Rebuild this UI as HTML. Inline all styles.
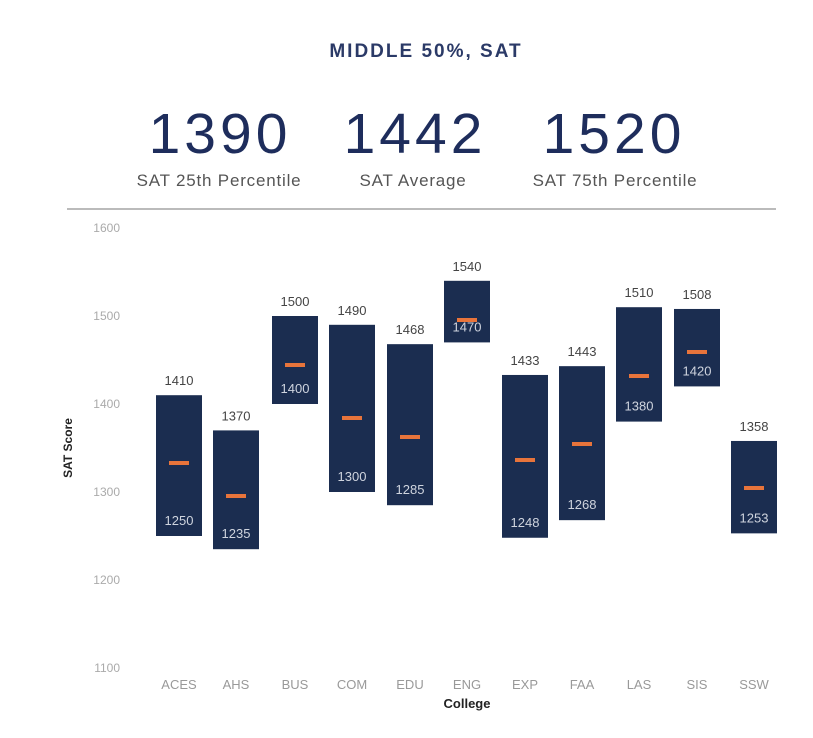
<!DOCTYPE html>
<html><head><style>
body{margin:0;background:#fff;}
svg{display:block;font-family:"Liberation Sans",sans-serif;}
</style></head><body>
<svg width="813" height="738" viewBox="0 0 813 738">
<rect width="813" height="738" fill="#fff"/>
<text x="426" y="57" text-anchor="middle" font-size="19" font-weight="bold" fill="#2b3a67" letter-spacing="2">MIDDLE 50%, SAT</text>
<g font-size="57" fill="#1e2d5c" text-anchor="middle" letter-spacing="4">
<text x="220" y="153">1390</text><text x="415" y="153">1442</text><text x="614" y="153">1520</text></g>
<g font-size="17" fill="#555" text-anchor="middle" letter-spacing="0.8">
<text x="219" y="186">SAT 25th Percentile</text><text x="413" y="186">SAT Average</text><text x="615" y="186">SAT 75th Percentile</text></g>
<line x1="67" y1="209" x2="776" y2="209" stroke="#bbb" stroke-width="2"/>
<g font-size="12" fill="#aaa" text-anchor="end">
<text x="120" y="232">1600</text><text x="120" y="320">1500</text><text x="120" y="408">1400</text><text x="120" y="496">1300</text><text x="120" y="584">1200</text><text x="120" y="672">1100</text></g>
<text transform="translate(72,448) rotate(-90)" text-anchor="middle" font-size="12" font-weight="bold" fill="#222">SAT Score</text>
<text x="467" y="708" text-anchor="middle" font-size="13" font-weight="bold" fill="#222">College</text>
<g id="bars"></g>
</svg>
<script>
const d=[["ACES",179,1410,1250,463],["AHS",236,1370,1235,496],["BUS",295,1500,1400,365],["COM",352,1490,1300,418],["EDU",410,1468,1285,437],["ENG",467,1540,1470,320],["EXP",525,1433,1248,460],["FAA",582,1443,1268,444],["LAS",639,1510,1380,376],["SIS",697,1508,1420,352],["SSW",754,1358,1253,488]];
const y=v=>228+(1600-v)*0.88;let s="";
for(const[n,x,t,b,m] of d){const yt=y(t),yb=y(b);
s+=`<rect x="${x-23}" y="${yt}" width="46" height="${yb-yt}" fill="#1b2d50"/>`;
s+=`<rect x="${x-10}" y="${m-2}" width="20" height="4" fill="#e8743b"/>`;
s+=`<text x="${x}" y="${yt-10}" text-anchor="middle" font-size="13" fill="#444">${t}</text>`;
s+=`<text x="${x}" y="${yb-11}" text-anchor="middle" font-size="13" fill="#cfd4de">${b}</text>`;
s+=`<text x="${x}" y="689" text-anchor="middle" font-size="13" fill="#999">${n}</text>`;}
document.getElementById("bars").innerHTML=s;
</script>
</body></html>
